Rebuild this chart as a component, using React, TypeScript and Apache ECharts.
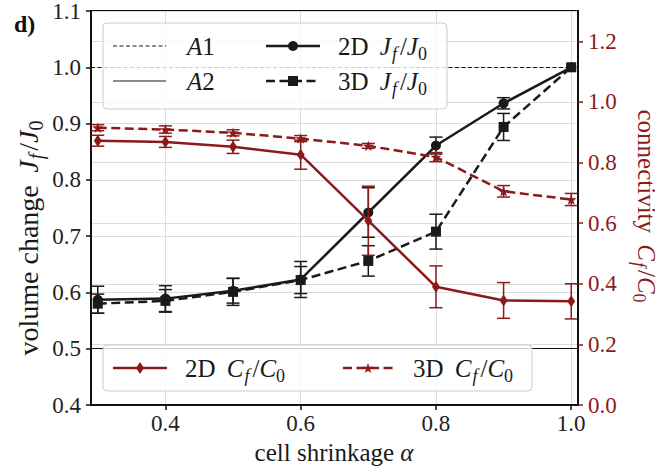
import React, { useEffect, useRef } from 'react';
import * as echarts from 'echarts';

// ---- data ----
const alpha = [0.3, 0.4, 0.5, 0.6, 0.7, 0.8, 0.9, 1.0];
const j2D = [0.587, 0.589, 0.603, 0.623, 0.742, 0.861, 0.936, 1.0];
const j2DErr = [0.024, 0.023, 0.022, 0.032, 0.044, 0.015, 0.01, 0];
const j3D = [0.58, 0.585, 0.601, 0.622, 0.656, 0.708, 0.894, 1.0];
const j3DErr = [0.017, 0.02, 0.024, 0.024, 0.027, 0.031, 0.024, 0];
const c2D = [0.872, 0.868, 0.852, 0.826, 0.608, 0.39, 0.345, 0.342];
const c2DErr = [0.018, 0.018, 0.022, 0.048, 0.114, 0.069, 0.059, 0.058];
const c3D = [0.915, 0.909, 0.898, 0.879, 0.855, 0.818, 0.705, 0.678];
const c3DErr = [0.01, 0.012, 0.01, 0.01, 0.008, 0.015, 0.019, 0.02];
const xTickValues = [0.4, 0.6, 0.8, 1.0];
const rightTickValues = [0, 0.2, 0.4, 0.6, 0.8, 1.0, 1.2];
const a1Level = 1.0;
const a2Level = 0.5;

const BLACK = '#1a1a1a';
const RED = '#8c1a1a';
const SERIF = 'Liberation Serif';
const STAR_PATH =
  'path://M0,-10L2.35,-3.24L9.51,-3.09L3.8,1.24L5.88,8.09L0,4L-5.88,8.09L-3.8,1.24L-9.51,-3.09L-2.35,-3.24Z';

function rich(size: number, color: string) {
  const L = Math.round(size * 1.3);
  const sub = Math.round(size * 0.7);
  const hs = L - 2 * size * 0.36;
  return {
    n: { fontFamily: SERIF, fontSize: size, fill: color, lineHeight: L },
    i: { fontFamily: SERIF, fontSize: size, fontStyle: 'italic', fill: color, lineHeight: L },
    s: { fontFamily: SERIF, fontSize: sub, fill: color, lineHeight: hs, verticalAlign: 'bottom' },
    si: {
      fontFamily: SERIF, fontSize: sub, fontStyle: 'italic', fill: color, lineHeight: hs,
      verticalAlign: 'bottom', padding: [0, 3, 0, 1],
    },
  };
}

const ratio = (letter: string) => `{i|${letter}}{si|f}{n|/}{i|${letter}}{s|0}`;

function mathText(x: number, y: number, text: string, size: number, color: string, align = 'left', rotation = 0) {
  return {
    type: 'text',
    x,
    y,
    rotation,
    z: 101,
    silent: true,
    style: {
      text,
      rich: rich(size, color),
      fontFamily: SERIF,
      fontSize: size,
      fill: color,
      align,
      verticalAlign: 'middle',
    },
  };
}

function starPoints(cx: number, cy: number, R: number) {
  const pts: number[][] = [];
  for (let k = 0; k < 10; k++) {
    const r = k % 2 === 0 ? R : R * 0.4;
    const a = -Math.PI / 2 + (k * Math.PI) / 5;
    pts.push([cx + r * Math.cos(a), cy + r * Math.sin(a)]);
  }
  return pts;
}

function errorSeries(values: number[], errs: number[], color: string, yAxisIndex: number, z: number) {
  return {
    type: 'custom',
    yAxisIndex,
    z,
    silent: true,
    clip: false,
    encode: { x: 0, y: 1 },
    data: alpha.map((a, i) => [a, values[i], errs[i]]),
    renderItem: (_p: any, api: any) => {
      const x = api.value(0);
      const y = api.value(1);
      const e = api.value(2);
      if (!e) return { type: 'group', children: [] };
      const top = api.coord([x, y + e]);
      const bot = api.coord([x, y - e]);
      const w = 6.5;
      const style = { stroke: color, lineWidth: 1.5 };
      return {
        type: 'group',
        children: [
          { type: 'line', shape: { x1: top[0], y1: top[1], x2: bot[0], y2: bot[1] }, style },
          { type: 'line', shape: { x1: top[0] - w, y1: top[1], x2: top[0] + w, y2: top[1] }, style },
          { type: 'line', shape: { x1: bot[0] - w, y1: bot[1], x2: bot[0] + w, y2: bot[1] }, style },
        ],
      };
    },
  };
}

export default function App() {
  const ref = useRef<HTMLDivElement>(null);

  useEffect(() => {
    document.body.style.margin = '0';
    if (!ref.current) return;
    const chart = echarts.init(ref.current, undefined, { renderer: 'svg' });
    const fmt = (v: number) => v.toFixed(1);
    const LS = 25;
    const tickFont = { fontFamily: SERIF, fontSize: 23, fontStyle: 'normal', fontWeight: 'normal' };

    const legendGraphics: any[] = [
      // upper legend
      {
        type: 'rect', z: 100, silent: true,
        shape: { x: 103, y: 23, width: 344, height: 86, r: 4 },
        style: { fill: 'rgba(255,255,255,0.8)', stroke: '#cccccc', lineWidth: 1 },
      },
      { type: 'line', z: 101, shape: { x1: 113, y1: 46, x2: 166, y2: 46 }, style: { stroke: BLACK, lineWidth: 1.2, lineDash: [4, 2.5] } },
      mathText(187, 46, '{i|A}{n|1}', LS, BLACK),
      { type: 'line', z: 101, shape: { x1: 113, y1: 81, x2: 166, y2: 81 }, style: { stroke: BLACK, lineWidth: 1.2 } },
      mathText(187, 81, '{i|A}{n|2}', LS, BLACK),
      { type: 'line', z: 101, shape: { x1: 266, y1: 46, x2: 320, y2: 46 }, style: { stroke: BLACK, lineWidth: 2.5 } },
      { type: 'circle', z: 102, shape: { cx: 293, cy: 46, r: 5 }, style: { fill: BLACK } },
      mathText(338, 46, '{n|2D\u2009 }' + ratio('J'), LS, BLACK),
      { type: 'line', z: 101, shape: { x1: 266, y1: 81, x2: 320, y2: 81 }, style: { stroke: BLACK, lineWidth: 2.5, lineDash: [9, 4.5] } },
      { type: 'rect', z: 102, shape: { x: 288, y: 76, width: 10, height: 10 }, style: { fill: BLACK } },
      mathText(338, 81, '{n|3D\u2009 }' + ratio('J'), LS, BLACK),
      // lower legend
      {
        type: 'rect', z: 100, silent: true,
        shape: { x: 103, y: 345, width: 429, height: 46, r: 4 },
        style: { fill: 'rgba(255,255,255,0.8)', stroke: '#cccccc', lineWidth: 1 },
      },
      { type: 'line', z: 101, shape: { x1: 113, y1: 368, x2: 167, y2: 368 }, style: { stroke: RED, lineWidth: 2.5 } },
      { type: 'polygon', z: 102, shape: { points: [[140, 362], [144, 368], [140, 374], [136, 368]] }, style: { fill: RED } },
      mathText(185, 368, '{n|2D\u2009 }' + ratio('C'), LS, BLACK),
      { type: 'line', z: 101, shape: { x1: 343, y1: 368, x2: 393, y2: 368 }, style: { stroke: RED, lineWidth: 2.5, lineDash: [9, 4.5] } },
      { type: 'polygon', z: 102, shape: { points: starPoints(368, 368.5, 5.5) }, style: { fill: RED } },
      mathText(413, 368, '{n|3D\u2009 }' + ratio('C'), LS, BLACK),
      // panel label and axis titles
      {
        type: 'text', x: 14, y: 24, z: 101, silent: true,
        style: { text: 'd)', fontFamily: SERIF, fontSize: 24, fontWeight: 'bold', fill: '#111', align: 'left', verticalAlign: 'middle' },
      },
      mathText(28, 238, '{n|volume change\u2009 }' + ratio('J'), 28, BLACK, 'center', Math.PI / 2),
      mathText(646, 206, '{n|connectivity\u2009 }' + ratio('C'), 25, RED, 'center', -Math.PI / 2),
      mathText(334, 452, '{n|cell shrinkage }{i|α}', 25, BLACK, 'center'),
    ];

    chart.setOption({
      animation: false,
      textStyle: { fontFamily: SERIF },
      grid: {
        left: 91, right: 85, top: 11, bottom: 67,
        show: true, borderColor: '#111', borderWidth: 2,
        outerBoundsMode: 'none',
      },
      xAxis: {
        type: 'value', min: 0.29, max: 1.01,
        axisLine: { show: true, lineStyle: { color: '#111', width: 2 } },
        axisTick: { show: true, length: 5, lineStyle: { color: '#111', width: 1.5 }, customValues: xTickValues },
        axisLabel: { customValues: xTickValues, formatter: fmt, color: '#222', margin: 7, ...tickFont },
        splitLine: { show: true, lineStyle: { color: '#dcdcdc', width: 1 } },
      },
      yAxis: [
        {
          type: 'value', min: 0.4, max: 1.1, interval: 0.1, position: 'left',
          axisLine: { show: true, lineStyle: { color: '#111', width: 2 } },
          axisTick: { show: true, length: 5, lineStyle: { color: '#111', width: 1.5 } },
          axisLabel: { formatter: fmt, color: '#222', margin: 10, ...tickFont },
          splitLine: { show: true, lineStyle: { color: '#dcdcdc', width: 1 } },
        },
        {
          type: 'value', min: 0, max: 1.3, interval: 0.2, position: 'right',
          axisLine: { show: true, lineStyle: { color: '#111', width: 2 } },
          axisTick: { show: true, length: 5, lineStyle: { color: RED, width: 1.5 }, customValues: rightTickValues },
          axisLabel: { customValues: rightTickValues, formatter: fmt, color: RED, margin: 10, ...tickFont },
          splitLine: { show: true, lineStyle: { color: '#dcdcdc', width: 1 } },
        },
      ],
      series: [
        errorSeries(j2D, j2DErr, BLACK, 0, 2),
        errorSeries(j3D, j3DErr, BLACK, 0, 2),
        {
          type: 'line', yAxisIndex: 0, z: 3, silent: true,
          data: alpha.map((a, i) => [a, j2D[i]]),
          symbol: 'circle', symbolSize: 10, showSymbol: true,
          lineStyle: { color: BLACK, width: 2.5 }, itemStyle: { color: BLACK },
          markLine: {
            silent: true, symbol: ['none', 'none'], label: { show: false },
            data: [
              { yAxis: a1Level, lineStyle: { type: [4, 2.5], width: 1.2, color: '#111' } },
              { yAxis: a2Level, lineStyle: { type: 'solid', width: 1.2, color: '#111' } },
            ],
          },
        },
        {
          type: 'line', yAxisIndex: 0, z: 3, silent: true,
          data: alpha.map((a, i) => [a, j3D[i]]),
          symbol: 'rect', symbolSize: 10, showSymbol: true,
          lineStyle: { color: BLACK, width: 2.5, type: [9, 4.5] }, itemStyle: { color: BLACK },
        },
        errorSeries(c2D, c2DErr, RED, 1, 4),
        errorSeries(c3D, c3DErr, RED, 1, 4),
        {
          type: 'line', yAxisIndex: 1, z: 5, silent: true,
          data: alpha.map((a, i) => [a, c2D[i]]),
          symbol: 'diamond', symbolSize: [8, 12], showSymbol: true,
          lineStyle: { color: RED, width: 2.5 }, itemStyle: { color: RED },
        },
        {
          type: 'line', yAxisIndex: 1, z: 5, silent: true,
          data: alpha.map((a, i) => [a, c3D[i]]),
          symbol: STAR_PATH, symbolSize: 11, symbolKeepAspect: true, showSymbol: true,
          lineStyle: { color: RED, width: 2.5, type: [9, 4.5] }, itemStyle: { color: RED },
        },
      ],
      graphic: { elements: legendGraphics },
    });

    return () => chart.dispose();
  }, []);

  return <div ref={ref} style={{ width: 663, height: 472 }} />;
}
